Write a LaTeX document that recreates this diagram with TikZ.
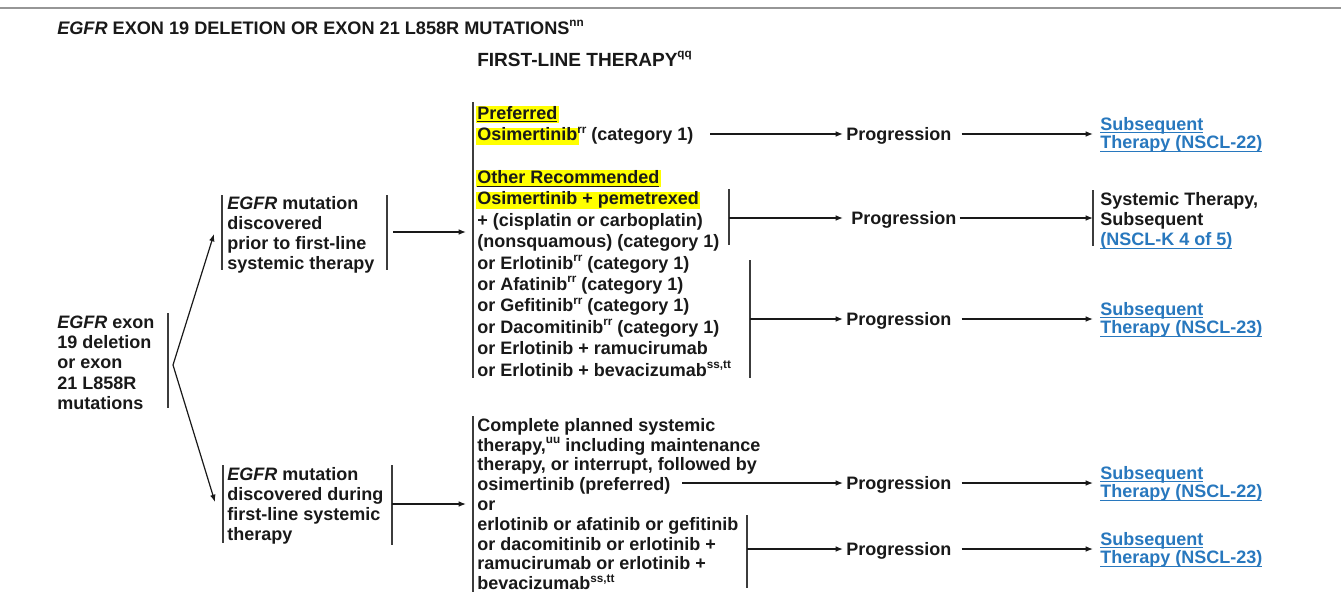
\documentclass[tikz,border=0pt]{standalone}
\usepackage{fontspec}
\setmainfont{Liberation Sans}
\usetikzlibrary{arrows.meta}
\definecolor{ink}{RGB}{25,25,25}
\definecolor{linkblue}{RGB}{40,120,190}
\definecolor{hlyellow}{RGB}{255,255,0}
\definecolor{rulegray}{RGB}{150,150,150}
\newsavebox\ulbox
\newcommand{\sups}[1]{\raisebox{0.42em}{\fontsize{8.8}{8.8}\selectfont #1}}
\newcommand{\uln}[1]{\sbox\ulbox{#1}\rlap{\rule[-2.4pt]{\wd\ulbox}{0.8pt}}#1}
\newcommand{\hlt}[1]{\kern-1pt{\setlength{\fboxsep}{0pt}\colorbox{hlyellow}{\kern1pt\rule[-0.22em]{0pt}{0.95em}#1\kern1pt}}\kern-1pt}
\newcommand{\lnk}[1]{\textcolor{linkblue}{\uln{#1}}}
\newcommand{\fl}{\rule{0pt}{1em}}
\newcommand{\tightls}{\setlength{\lineskiplimit}{-20pt}\setlength{\lineskip}{0pt}}
\begin{document}
\begin{tikzpicture}[x=0.75pt,y=-0.75pt,
  txt/.style={inner sep=0pt, text=ink, align=left, anchor=north west},
  prog/.style={inner sep=0pt, text=ink, anchor=west, text height=9.7pt, text depth=0pt, font=\fontsize{13.5}{15}\selectfont\bfseries},
  lnkf/.style={txt, font=\fontsize{13.5}{14}\selectfont\bfseries\tightls},
  arr/.style={-{Latex[length=5.5pt,width=4.2pt]}, line width=0.9pt, draw=ink},
  bar/.style={line width=1pt, draw=ink!85}]
\useasboundingbox (0,0) rectangle (1341,607);
\fill[white] (0,0) rectangle (1341,607);
\draw[rulegray, line width=0.8pt] (0,8) -- (1341,8);

% titles
\node[inner sep=0pt, text=ink, anchor=base west, font=\fontsize{13.6}{15}\selectfont\bfseries] (title) at (57,34)
  {\textit{EGFR} EXON 19 DELETION OR EXON 21 L858R MUTATIONS\sups{nn}};
\node[inner sep=0pt, text=ink, anchor=base west, font=\fontsize{14.3}{15}\selectfont\bfseries] (flt) at (477,66)
  {FIRST-LINE THERAPY\sups{qq}};

% column 1
\node[txt, font=\fontsize{13.5}{15.2}\selectfont\bfseries] (root) at (57,310)
  {\fl\textit{EGFR} exon\\19 deletion\\or exon\\21 L858R\\mutations};
\draw[bar] (168,313) -- (168,408);
\coordinate (apex) at (173,365);
\coordinate (t1) at (214,234);
\coordinate (t2) at (215,502);
\draw[arr] (apex) -- (t1);
\draw[arr] (apex) -- (t2);

% column 2
\node[txt, font=\fontsize{13.5}{15}\selectfont\bfseries] (prior) at (227,191)
  {\fl\textit{EGFR} mutation\\discovered\\prior to first-line\\systemic therapy};
\draw[bar] (222,195) -- (222,270);
\draw[bar] (387,195) -- (387,270);
\coordinate (pr) at (393,232);
\coordinate (pt) at (466,232);
\draw[arr] (pr) -- (pt);

\node[txt, font=\fontsize{13.5}{15}\selectfont\bfseries] (during) at (227,462)
  {\fl\textit{EGFR} mutation\\discovered during\\first-line systemic\\therapy};
\draw[bar] (223,465) -- (223,543);
\draw[bar] (392,465) -- (392,545);
\coordinate (dr) at (392,504);
\coordinate (dt) at (466,504);
\draw[arr] (dr) -- (dt);

% first-line block (top)
\node[txt, font=\fontsize{13.5}{16.05}\selectfont\bfseries] (topblk) at (477,101)
  {\fl\hlt{\uln{Preferred}}\\
   \hlt{Osimertinib}\sups{rr} (category 1)\\
   \mbox{}\\
   \hlt{\uln{Other Recommended}}\\
   \hlt{Osimertinib + pemetrexed}\\
   + (cisplatin or carboplatin)\\
   (nonsquamous) (category 1)\\
   or Erlotinib\sups{rr} (category 1)\\
   or Afatinib\sups{rr} (category 1)\\
   or Gefitinib\sups{rr} (category 1)\\
   or Dacomitinib\sups{rr} (category 1)\\
   or Erlotinib + ramucirumab\\
   or Erlotinib + bevacizumab\sups{ss,tt}};
\draw[bar] (473,102) -- (473,378);

% first-line block (bottom)
\node[txt, font=\fontsize{13.5}{14.85}\selectfont\bfseries] (botblk) at (477,413)
  {\fl Complete planned systemic\\
   therapy,\sups{uu} including maintenance\\
   therapy, or interrupt, followed by\\
   osimertinib (preferred)\\
   or\\
   erlotinib or afatinib or gefitinib\\
   or dacomitinib or erlotinib +\\
   ramucirumab or erlotinib +\\
   bevacizumab\sups{ss,tt}};
\draw[bar] (473,416) -- (473,592);

% progression nodes
\node[prog] (p1) at (846,134) {Progression};
\node[prog] (p2) at (851,218) {Progression};
\node[prog] (p3) at (846,319) {Progression};
\node[prog] (p4) at (846,483) {Progression};
\node[prog] (p5) at (846,549) {Progression};

% targets
\node[lnkf] (l1) at (1100,112)
  {\fl\lnk{Subsequent}\\\lnk{Therapy (NSCL-22)}};
\node[txt, font=\fontsize{13.5}{15.2}\selectfont\bfseries\tightls] (sys) at (1100,187)
  {\fl Systemic Therapy,\\Subsequent\\\lnk{(NSCL-K 4 of 5)}};
\draw[bar] (1093,190) -- (1093,246);
\node[lnkf] (l3) at (1100,297)
  {\fl\lnk{Subsequent}\\\lnk{Therapy (NSCL-23)}};
\node[lnkf] (l4) at (1100,461)
  {\fl\lnk{Subsequent}\\\lnk{Therapy (NSCL-22)}};
\node[lnkf] (l5) at (1100,527)
  {\fl\lnk{Subsequent}\\\lnk{Therapy (NSCL-23)}};

% connectors
\coordinate (o1) at (710,134);
\draw[arr, shorten >=2.25pt] (o1) -- (p1.west);
\draw[arr, shorten <=7.5pt, shorten >=5.25pt] (p1.east) -- (p1.east -| l1.west);

\draw[bar] (729,189) -- (729,245);
\coordinate (b2) at (729,218);
\draw[arr, shorten >=6pt] (b2) -- (p2.west);
\coordinate (s2) at (1093,218);
\draw[arr, shorten <=2.25pt] (p2.east) -- (s2);

\draw[bar] (750,260) -- (750,378);
\coordinate (b3) at (750,319);
\draw[arr, shorten >=2.25pt] (b3) -- (p3.west);
\draw[arr, shorten <=7.5pt, shorten >=5.25pt] (p3.east) -- (p3.east -| l3.west);

\coordinate (o4) at (682,483);
\draw[arr, shorten >=2.25pt] (o4) -- (p4.west);
\draw[arr, shorten <=7.5pt, shorten >=5.25pt] (p4.east) -- (p4.east -| l4.west);

\draw[bar] (747,515) -- (747,588);
\coordinate (b5) at (747,549);
\draw[arr, shorten >=2.25pt] (b5) -- (p5.west);
\draw[arr, shorten <=7.5pt, shorten >=5.25pt] (p5.east) -- (p5.east -| l5.west);
\end{tikzpicture}
\end{document}
